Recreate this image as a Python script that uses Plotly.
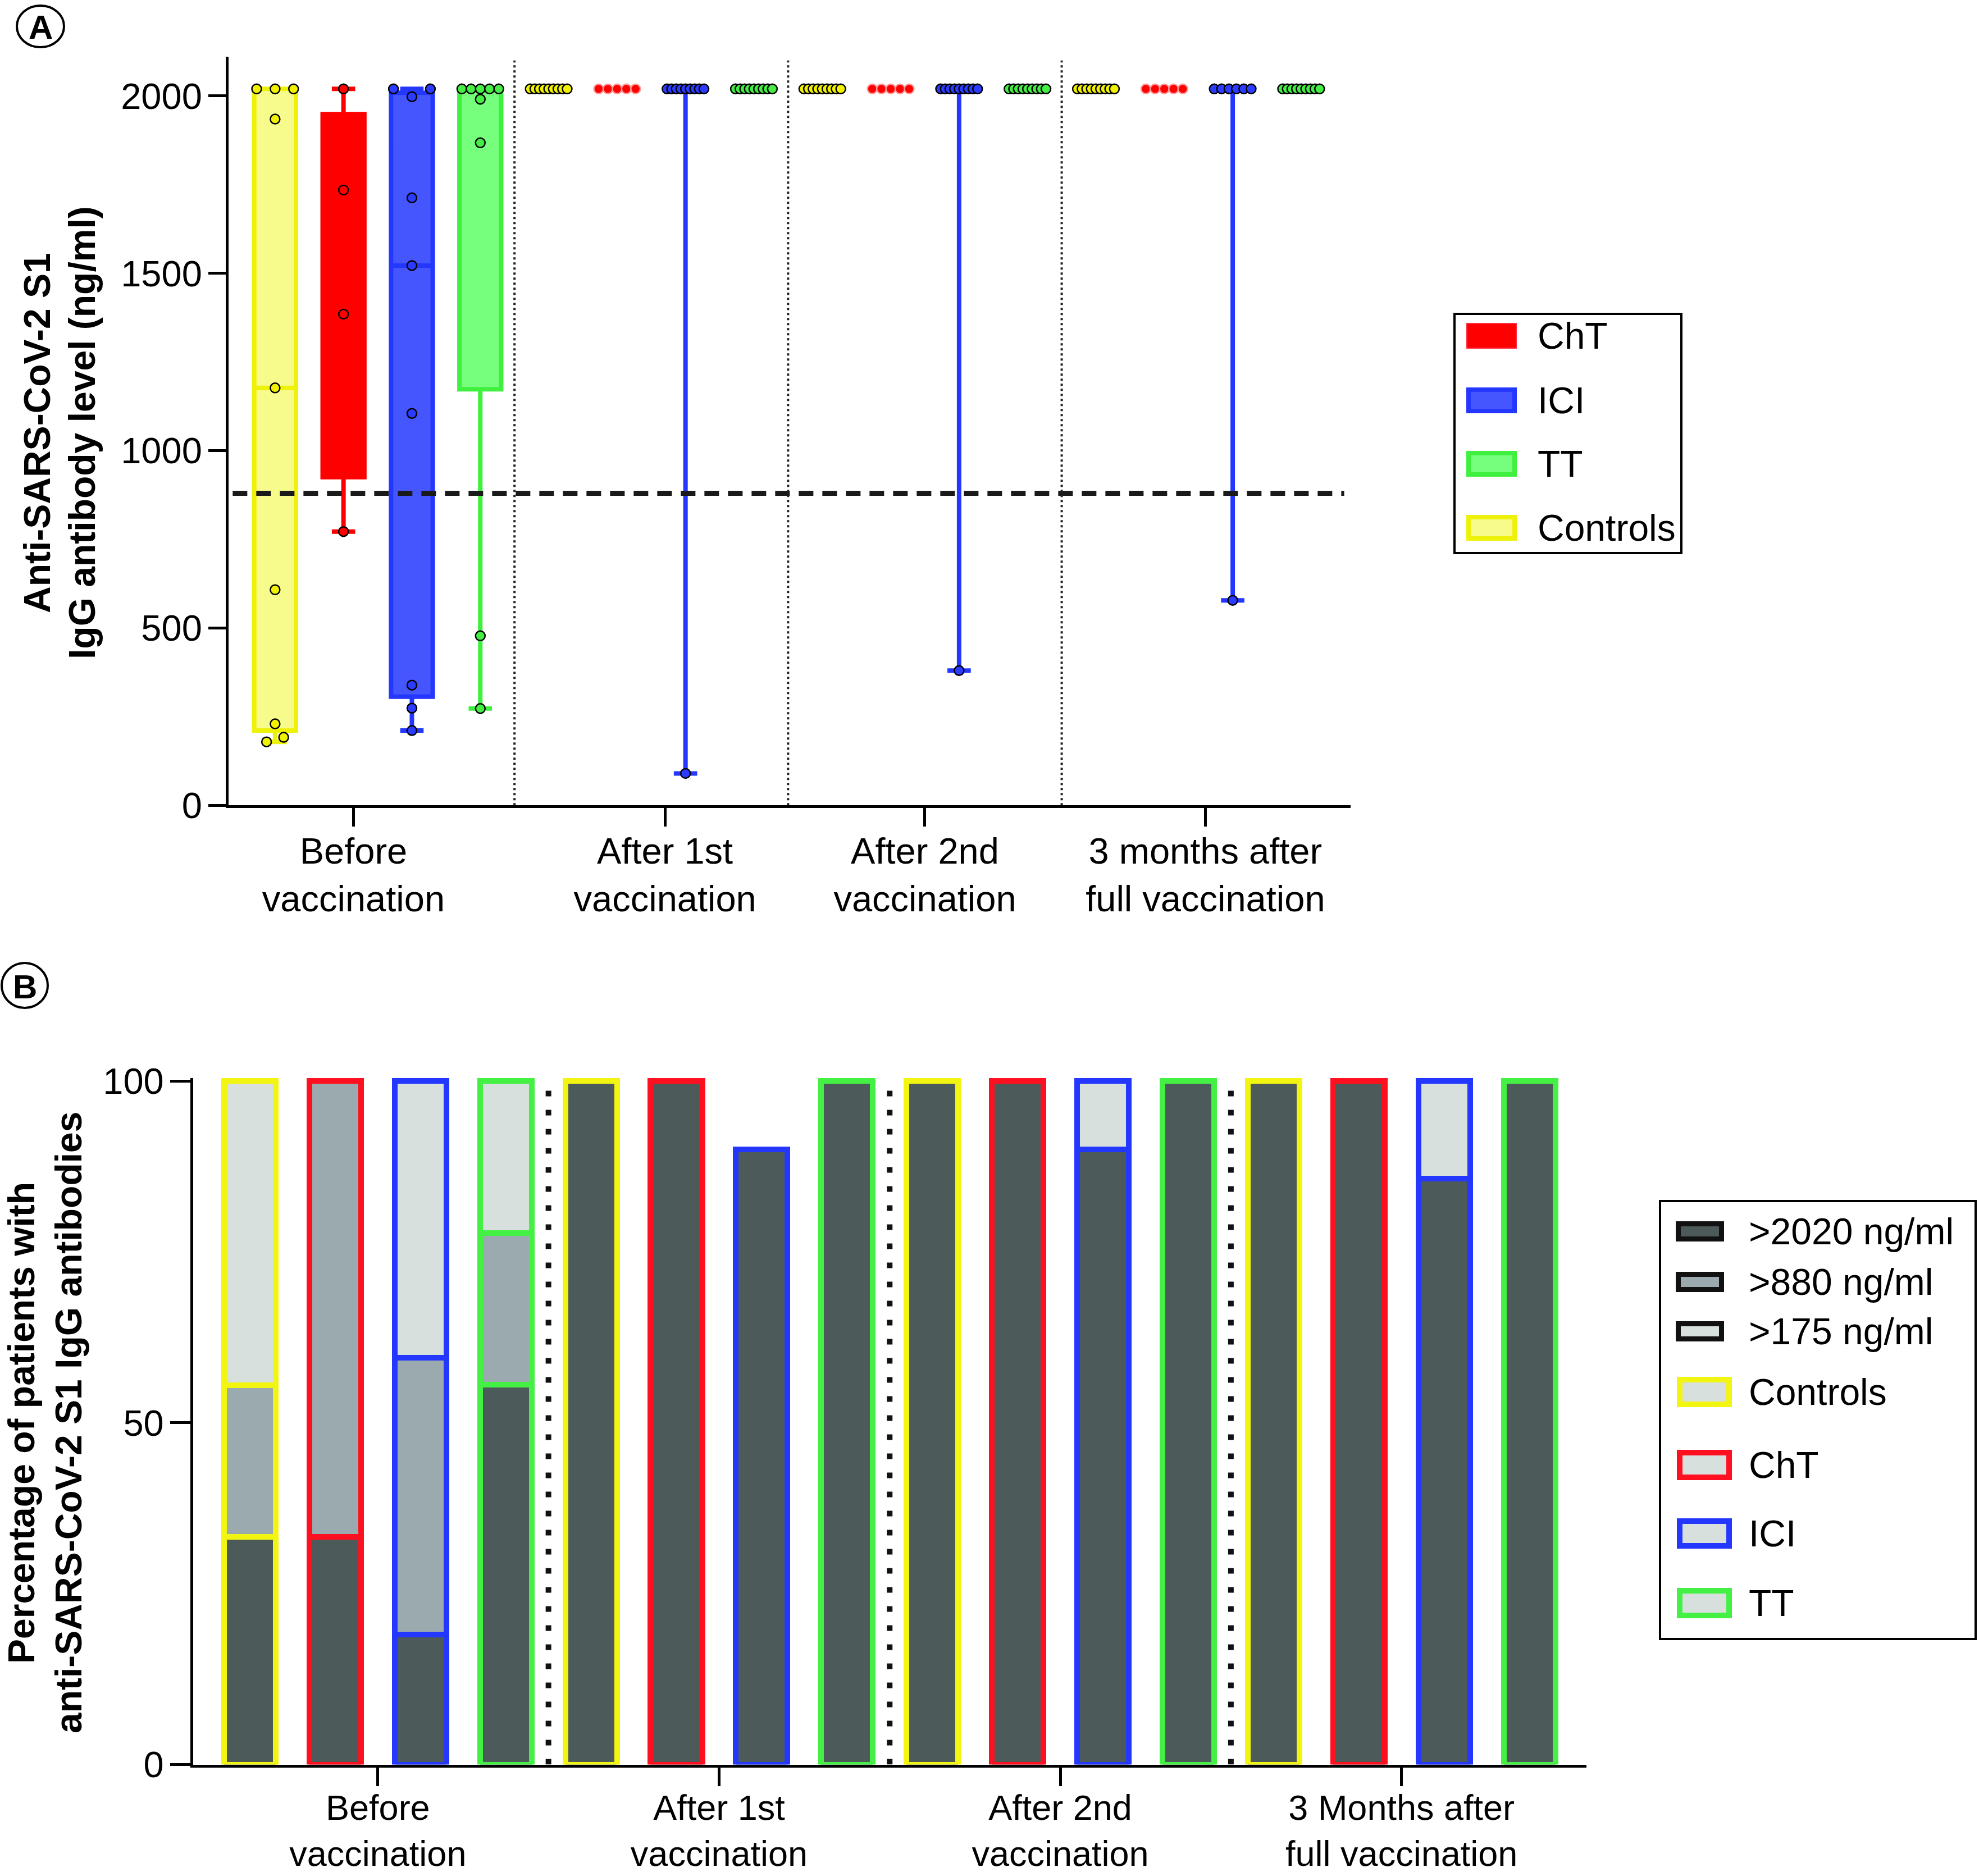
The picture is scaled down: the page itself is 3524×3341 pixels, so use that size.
import numpy as np
import plotly.graph_objects as go

W, H = 3524, 3341

# ---------------- data ----------------
groups = ["Controls", "ChT", "ICI", "TT"]
timepoints_a = ["Before<br>vaccination", "After 1st<br>vaccination",
                "After 2nd<br>vaccination", "3 months after<br>full vaccination"]
timepoints_b = ["Before<br>vaccination", "After 1st<br>vaccination",
                "After 2nd<br>vaccination", "3 Months after<br>full vaccination"]

cutoff = 880  # ng/ml positivity threshold (dashed line)

# Panel A: anti-S1 IgG levels (ng/ml); 2020 = upper limit of quantification
controls_before = [2020, 2020, 2020, 1935, 1177, 608, 230, 192, 179]
cht_before = [2020, 1735, 1385, 772]
ici_before = [2020, 2020, 1998, 1713, 1522, 1105, 339, 274, 211]
tt_before = [2020, 2020, 2020, 2020, 2020, 1991, 1868, 478, 273]

controls_after1 = [2020, 2020, 2020, 2020, 2020, 2020, 2020, 2020, 2020]
cht_after1 = [2020, 2020, 2020, 2020, 2020]
ici_after1 = [2020, 2020, 2020, 2020, 2020, 2020, 2020, 2020, 2020, 90]
tt_after1 = [2020, 2020, 2020, 2020, 2020, 2020, 2020, 2020, 2020]

controls_after2 = [2020, 2020, 2020, 2020, 2020, 2020, 2020, 2020, 2020]
cht_after2 = [2020, 2020, 2020, 2020, 2020]
ici_after2 = [2020, 2020, 2020, 2020, 2020, 2020, 2020, 2020, 2020, 380]
tt_after2 = [2020, 2020, 2020, 2020, 2020, 2020, 2020, 2020, 2020]

controls_3m = [2020, 2020, 2020, 2020, 2020, 2020, 2020, 2020, 2020]
cht_3m = [2020, 2020, 2020, 2020, 2020]
ici_3m = [2020, 2020, 2020, 2020, 2020, 2020, 578]
tt_3m = [2020, 2020, 2020, 2020, 2020, 2020, 2020, 2020, 2020]

series_a = [controls_before, cht_before, ici_before, tt_before,
            controls_after1, cht_after1, ici_after1, tt_after1,
            controls_after2, cht_after2, ici_after2, tt_after2,
            controls_3m, cht_3m, ici_3m, tt_3m]

# Panel B: % of patients per antibody category (Controls, ChT, ICI, TT per timepoint)
pct_over_2020 = [33.3, 33.3, 19.0, 55.6, 100, 100, 90, 100, 100, 100, 90, 100, 100, 100, 85.7, 100]
pct_over_880 = [22.2, 66.7, 40.5, 22.2, 0, 0, 0, 0, 0, 0, 0, 0, 0, 0, 0, 0]
pct_over_175 = [44.5, 0, 40.5, 22.2, 0, 0, 0, 0, 0, 0, 10, 0, 0, 0, 14.3, 0]
category_names = [">2020 ng/ml", ">880 ng/ml", ">175 ng/ml"]

# ---------------- styles ----------------
box_line = ["#EEF20A", "#FF0000", "#2437FF", "#3FF03F"]
box_fill = ["#F6FB8C", "#FF0000", "#4556FF", "#76FF7C"]
dot_fill = ["#F2F200", "#FF0000", "#2B3BFF", "#44EE44"]
bar_line = ["#F2F50F", "#FF1020", "#2437FF", "#44F044"]
seg_fill = ["#4D5A5A", "#9AAAAE", "#D8E0DE"]
FONT = "Liberation Sans, Arial, Helvetica, sans-serif"
FS = 65


def px_x(p):
    return p / W


def px_y(p):
    return 1 - p / H


def spread(vals, w=0.27, step=0.125, gap=45):
    """Horizontal offsets so that overlapping points are visible (scatter dot plot)."""
    offs = [0.0] * len(vals)
    idx_by_val = {}
    for i, v in enumerate(vals):
        idx_by_val.setdefault(v, []).append(i)
    singles = []
    for v, idxs in idx_by_val.items():
        if len(idxs) > 1:
            for k, i in enumerate(idxs):
                offs[i] = -w + 2 * w * k / (len(idxs) - 1)
        else:
            singles.append(idxs[0])
    singles.sort(key=lambda i: -vals[i])
    clusters = []
    for i in singles:
        if clusters and vals[clusters[-1][-1]] - vals[i] < gap:
            clusters[-1].append(i)
        else:
            clusters.append([i])
    for cl in clusters:
        if len(cl) > 1:
            order = [0]
            for k in range(1, len(cl)):
                m = (k + 1) // 2
                order.append(m if k % 2 == 1 else -m)
            for i, o in zip(cl, order):
                offs[i] = o * step
    return offs


fig = go.Figure()

# ---------------- Panel A: boxes ----------------
for pos, vals in enumerate(series_a):
    g = pos % 4
    v = np.array(vals, dtype=float)
    q1, med, q3 = np.percentile(v, [25, 50, 75], method="weibull")
    fig.add_trace(go.Box(
        x=[pos], q1=[q1], median=[med], q3=[q3],
        lowerfence=[v.min()], upperfence=[v.max()],
        width=0.61, whiskerwidth=0.56,
        fillcolor=box_fill[g], line=dict(color=box_line[g], width=8),
        xaxis="x", yaxis="y", showlegend=False, hoverinfo="skip",
    ))

# ---------------- Panel A: dots ----------------
for pos, vals in enumerate(series_a):
    g = pos % 4
    offs = spread(vals)
    outline = "black"
    if g == 1 and pos >= 4:
        outline = "#FF9A9A"
    fig.add_trace(go.Scatter(
        x=[pos + o for o in offs], y=vals, mode="markers",
        marker=dict(size=17, color=dot_fill[g], line=dict(color=outline, width=2.5)),
        xaxis="x", yaxis="y", showlegend=False, cliponaxis=False, hoverinfo="skip",
    ))

# ---------------- Panel B: stacked bars ----------------
positions_b = list(range(16))
line_cols = [bar_line[p % 4] for p in positions_b]
for name, vals, col in zip(category_names, [pct_over_2020, pct_over_880, pct_over_175], seg_fill):
    fig.add_trace(go.Bar(
        x=positions_b, y=[v if v > 0 else None for v in vals], name=name,
        marker=dict(color=col, line=dict(color=line_cols, width=10)),
        width=0.606, xaxis="x2", yaxis="y2", showlegend=False, hoverinfo="skip",
    ))

shapes = []
annotations = []

# cutoff dashed line, panel A
shapes.append(dict(type="line", xref="x", yref="y", x0=-0.62, x1=15.63, y0=cutoff, y1=cutoff,
                   line=dict(color="#1a1a1a", width=9, dash="26px,16px"), layer="above"))
# timepoint separators
for xs in [3.5, 7.5, 11.5]:
    shapes.append(dict(type="line", xref="x", yref="y", x0=xs, x1=xs, y0=0, y1=2100,
                       line=dict(color="#222", width=4, dash="4px,5px"), layer="above"))
    shapes.append(dict(type="line", xref="x2", yref="y2", x0=xs, x1=xs, y0=0, y1=99,
                       line=dict(color="#111", width=10, dash="10px,24px"), layer="above"))

# panel letters
for cx, cy, rx, ry, letter in [(72, 47, 42, 37, "A"), (44, 1755, 41, 40, "B")]:
    shapes.append(dict(type="circle", xref="paper", yref="paper",
                       x0=px_x(cx - rx), x1=px_x(cx + rx), y0=px_y(cy + ry), y1=px_y(cy - ry),
                       line=dict(color="black", width=4)))
    annotations.append(dict(text="<b>%s</b>" % letter, xref="paper", yref="paper",
                            x=px_x(cx), y=px_y(cy + 2), xanchor="center", yanchor="middle",
                            showarrow=False, font=dict(family=FONT, size=60, color="black")))

# axis titles (two lines each)
for txt, x, y in [("Anti-SARS-CoV-2 S1", 66, 771), ("IgG antibody level (ng/ml)", 146, 771),
                  ("Percentage of patients with", 38, 2534),
                  ("anti-SARS-CoV-2 S1 IgG antibodies", 122, 2534)]:
    annotations.append(dict(text="<b>%s</b>" % txt, xref="paper", yref="paper",
                            x=px_x(x), y=px_y(y), xanchor="center", yanchor="middle",
                            textangle=-90, showarrow=False,
                            font=dict(family=FONT, size=66, color="black")))


def rect(x0, y0, x1, y1, lw, line_col, fill):
    h = lw / 2.0
    return dict(type="rect", xref="paper", yref="paper",
                x0=px_x(x0 + h), x1=px_x(x1 - h), y0=px_y(y1 - h), y1=px_y(y0 + h),
                line=dict(color=line_col, width=lw), fillcolor=fill, layer="above")


# Legend A
shapes.append(rect(2588, 557, 2996, 987, 4, "black", "rgba(0,0,0,0)"))
legend_a = [("ChT", 598, "#FF2A40", "#FF0000", 2), ("ICI", 713, "#2437FF", "#4556FF", 8),
            ("TT", 826, "#3FF03F", "#76FF7C", 8), ("Controls", 940, "#EEF20A", "#F6FB8C", 8)]
for name, cy, lc, fc, lw in legend_a:
    shapes.append(rect(2611, cy - 23, 2701, cy + 23, lw, lc, fc))
    annotations.append(dict(text=name, xref="paper", yref="paper", x=px_x(2736), y=px_y(cy),
                            xanchor="left", yanchor="middle", showarrow=False,
                            font=dict(family=FONT, size=66, color="black")))

# Legend B
shapes.append(rect(2954, 2137, 3520, 2921, 4, "black", "rgba(0,0,0,0)"))
for name, cy, fc in zip(category_names, [2193, 2283, 2371], seg_fill):
    shapes.append(rect(2984, cy - 18, 3070, cy + 18, 9, "#111111", fc))
    annotations.append(dict(text=name, xref="paper", yref="paper", x=px_x(3112), y=px_y(cy),
                            xanchor="left", yanchor="middle", showarrow=False,
                            font=dict(family=FONT, size=66, color="black")))
for name, cy, lc in zip(groups, [2479, 2609, 2731, 2855], bar_line):
    shapes.append(rect(2986, cy - 27, 3084, cy + 27, 10, lc, "#D8E0DE"))
    annotations.append(dict(text=name, xref="paper", yref="paper", x=px_x(3112), y=px_y(cy),
                            xanchor="left", yanchor="middle", showarrow=False,
                            font=dict(family=FONT, size=66, color="black")))

axis_common = dict(showline=True, linecolor="black", linewidth=5, ticks="outside",
                   tickcolor="black", tickwidth=4.5, showgrid=False, zeroline=False,
                   automargin=False)

fig.update_layout(
    width=W, height=H, autosize=False,
    margin=dict(l=0, r=0, t=0, b=0, pad=0),
    paper_bgcolor="white", plot_bgcolor="white",
    barmode="stack", showlegend=False,
    xaxis=dict(domain=[406.8 / W, 2404.7 / W], range=[-0.682, 15.721], anchor="y",
               tickvals=[1.146, 5.70, 9.50, 13.60], ticktext=timepoints_a, ticklen=33,
               ticklabelstandoff=-12, tickfont=dict(family=FONT, size=FS, color="black"),
               **axis_common),
    yaxis=dict(domain=[px_y(1434.3), px_y(101)], range=[0, 2110.8], anchor="x",
               tickvals=[0, 500, 1000, 1500, 2000], ticklen=31,
               ticklabelstandoff=-2, tickfont=dict(family=FONT, size=FS, color="black"),
               **axis_common),
    xaxis2=dict(domain=[343.75 / W, 2825 / W], range=[-0.6665, 15.668], anchor="y2",
                tickvals=[1.5, 5.5, 9.5, 13.5], ticktext=timepoints_b, ticklen=33,
                ticklabelstandoff=-15, tickfont=dict(family=FONT, size=63, color="black"),
                **axis_common),
    yaxis2=dict(domain=[px_y(3142.6), px_y(1919.8)], range=[0, 100.45], anchor="x2",
                tickvals=[0, 50, 100], ticklen=36,
                ticklabelstandoff=-2, tickfont=dict(family=FONT, size=FS, color="black"),
                **axis_common),
    shapes=shapes, annotations=annotations,
)

fig.write_html("out.html", config={"displayModeBar": False},
               post_script="document.body.style.margin='0';document.body.style.padding='0';")
